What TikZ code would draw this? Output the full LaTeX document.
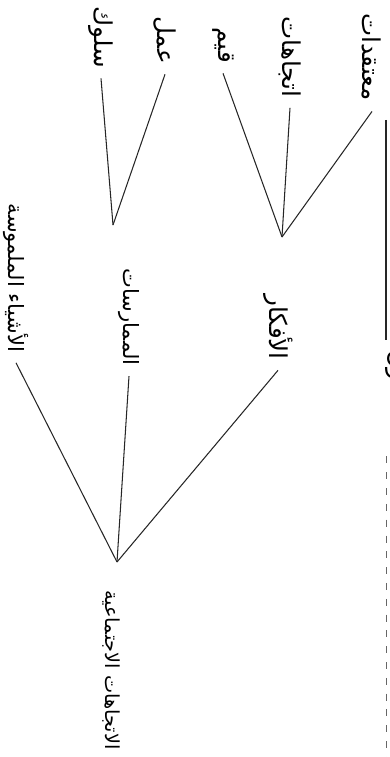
\documentclass[tikz,border=0pt]{standalone}
\usepackage{fontspec}
\newfontfamily\arabicfont[Script=Arabic]{DejaVu Sans}
\TeXXeTstate=1
\usetikzlibrary{positioning}

\begin{document}
\begin{tikzpicture}[
    x=0.02cm, y=0.02cm,
    lbl/.style={rotate=-90, font=\arabicfont\fontsize{14}{16}\selectfont, inner sep=1pt, outer sep=5pt},
    longlbl/.style={lbl, font=\arabicfont\fontsize{12}{14}\selectfont},
    ln/.style={line width=0.6pt, black!85},
    scanline/.style={line width=0.5pt, black!60, dash pattern=on 4pt off 5pt}
  ]
  \useasboundingbox (0,0) rectangle (389,-757);
  \clip (0,0) rectangle (389,-757);

  % leaves
  \node[lbl] (belief) at (372,-57) {\beginR معتقدات\endR};
  \node[lbl] (attitude) at (290,-57) {\beginR اتجاهات\endR};
  \node[lbl] (value) at (223,-45) {\beginR قيم\endR};
  \node[lbl] (work) at (165,-40) {\beginR عمل\endR};
  \node[lbl] (behave) at (101,-37) {\beginR سلوك\endR};

  % middle level
  \node[lbl] (ideas) at (278,-327) {\beginR الأفكار\endR};
  \node[longlbl] (practice) at (129,-317) {\beginR الممارسات\endR};
  \node[longlbl] (things) at (16,-278) {\beginR الأشياء الملموسة\endR};

  % root
  \node[longlbl, font=\arabicfont\fontsize{11}{13}\selectfont] (root) at (111,-670) {\beginR الاتجاهات الاجتماعية\endR};

  % cut-off text at the edge of the scan
  \node[lbl] (cut) at (398,-398) {\beginR العقائدون\endR};

  \coordinate (jIdeas) at (282,-237);
  \coordinate (jPractice) at (113,-225);
  \coordinate (jRoot) at (117,-562);
  \coordinate (edgeTop) at (386,-120);

  \draw[ln] (belief.east) -- (jIdeas);
  \draw[ln] (attitude.east) -- (jIdeas);
  \draw[ln] (value.east) -- (jIdeas);
  \draw[ln] (work.east) -- (jPractice);
  \draw[ln] (behave.east) -- (jPractice);
  \draw[ln] (ideas.east) -- (jRoot);
  \draw[ln] (practice.east) -- (jRoot);
  \draw[ln] (things.east) -- (jRoot);

  \draw[ln] (edgeTop) -- (cut.west -| edgeTop);
  \draw[scanline] (cut.east -| edgeTop) -- (386,-757);
\end{tikzpicture}
\end{document}
